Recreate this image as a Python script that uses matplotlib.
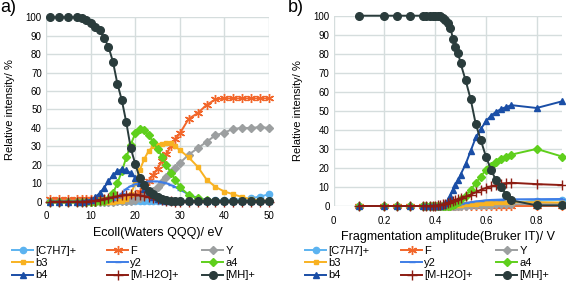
import matplotlib
matplotlib.use('Agg')
import matplotlib.pyplot as plt

plt.rcParams['font.family'] = ['Liberation Sans', 'DejaVu Sans']

# series names (legend order, row by row)
names = ['[C7H7]+', 'F', 'Y', 'b3', 'y2', 'a4', 'b4', '[M-H2O]+', '[MH]+']

# ---- panel a: Waters QQQ, collision energy (eV)
xa = [1, 3, 5, 7, 8, 9, 10, 11, 12, 13, 14, 15, 16, 17, 18, 19, 20, 21, 22, 23,
      24, 25, 26, 27, 28, 29, 30, 32, 34, 36, 38, 40, 42, 44, 46, 48, 50]

a_c7h7 = [0.3, 0.3, 0.3, 0.3, 0.3, 0.3, 0.3, 0.3, 0.3, 0.3, 0.3, 0.3, 0.3, 0.3, 0.3, 0.3, 0.3, 0.3, 0.3, 0.3,
          0.3, 0.3, 0.3, 0.3, 0.3, 0.3, 0.3, 0.4, 0.5, 0.6, 0.7, 0.9, 1.1, 1.4, 1.9, 2.8, 4.0]
a_f = [1.5, 1.5, 1.5, 1.5, 1.5, 1.5, 1.5, 1.5, 1.5, 1.5, 1.5, 1.5, 1.5, 1.5, 1.8, 2.5, 3.5, 5.5, 8, 11,
       14.5, 18, 22, 26, 30, 34, 37, 45, 48, 52.5, 55.5, 56, 56, 56, 56, 56, 56]
a_y = [0, 0, 0, 0, 0, 0, 0, 0, 0, 0, 0, 0.1, 0.2, 0.3, 0.4, 0.6, 1, 2, 3, 4.5,
       6, 8, 10.5, 13.5, 16, 18.5, 21, 25.5, 29, 32.5, 36, 37.5, 39.5, 40, 40, 40.5, 40]
a_b3 = [0, 0, 0, 0, 0, 0, 0, 0, 0, 0, 0, 0.1, 0.2, 0.5, 1.5, 4, 10, 17, 23, 27.5,
        30, 31, 31.5, 32, 32, 30, 28, 24, 19, 12, 8, 5.5, 4, 2.5, 1.3, 0.8, 0.5]
a_y2 = [0, 0, 0, 0, 0, 0, 0, 0, 0, 0, 0.3, 1, 2.5, 4.5, 7, 8.5, 9.5, 10, 10.5, 11,
        11, 11, 10.5, 10, 9, 8, 6.5, 4, 2, 1, 0.5, 0.3, 0.3, 0.3, 0.3, 0.3, 0.3]
a_a4 = [0, 0, 0, 0, 0, 0, 0, 0, 0.2, 0.5, 1.5, 4.5, 10, 16.5, 24, 31, 37, 39.5, 39, 36,
        32.5, 28.5, 24.5, 20, 15.5, 12, 8, 3.6, 1.8, 0.9, 0.5, 0.3, 0.2, 0.2, 0.2, 0.2, 0.2]
a_b4 = [0, 0, 0, 0, 0, 0.5, 1, 2.5, 4.5, 7.5, 11, 14.5, 16.5, 17.5, 17, 15.5, 13, 10, 7, 4.5,
        2.7, 1.5, 0.8, 0.4, 0.2, 0.2, 0.2, 0.2, 0.2, 0.2, 0.2, 0.2, 0.2, 0.2, 0.2, 0.2, 0.2]
a_mh2o = [0, 0, 0, 0, 0, 0, 0.3, 0.6, 1, 1.5, 2, 2.5, 3, 3.5, 3.8, 4, 3.8, 3.5, 3, 2.5,
          2, 1.5, 1, 0.6, 0.3, 0.1, 0.1, 0.1, 0.1, 0.1, 0.1, 0.1, 0.1, 0.1, 0.1, 0.1, 0.1]
a_mh = [100, 100, 100, 100, 99.5, 98.5, 97, 95, 93, 89, 84, 76, 64, 55, 43, 29, 20.5, 13, 9, 6,
        4, 2.5, 1.5, 1, 0.5, 0.3, 0.2, 0.2, 0.2, 0.2, 0.2, 0.2, 0.2, 0.2, 0.2, 0.2, 0.2]

# ---- panel b: Bruker IT, fragmentation amplitude (V)
xb = [0.1, 0.2, 0.25, 0.3, 0.35, 0.365, 0.38, 0.39, 0.40, 0.41, 0.42, 0.43, 0.44, 0.45, 0.46, 0.47,
      0.48, 0.49, 0.50, 0.52, 0.54, 0.56, 0.58, 0.60, 0.62, 0.64, 0.66, 0.68, 0.70, 0.80, 0.90]

b_c7h7 = [0, 0, 0, 0, 0, 0, 0, 0, 0, 0, 0, 0, 0, 0, 0, 0.1,
          0.1, 0.2, 0.3, 0.5, 0.7, 0.9, 1.1, 1.3, 1.5, 1.7, 1.8, 1.9, 2.0, 2.8, 3.2]
b_f = [0] * len(xb)
b_y = [0, 0, 0, 0, 0, 0, 0, 0, 0, 0, 0, 0, 0, 0, 0, 0,
       0, 0.1, 0.1, 0.2, 0.3, 0.4, 0.5, 0.6, 0.7, 0.8, 0.8, 0.9, 0.9, 1.0, 1.0]
b_b3 = [0, 0, 0, 0, 0, 0, 0, 0, 0, 0, 0, 0, 0, 0, 0.1, 0.2,
        0.3, 0.4, 0.5, 0.8, 1.0, 1.3, 1.5, 1.7, 1.8, 1.9, 2.0, 2.0, 2.0, 2.0, 1.8]
b_y2 = [0, 0, 0, 0, 0, 0, 0, 0, 0, 0, 0, 0, 0, 0, 0.2, 0.3,
        0.5, 0.7, 1.0, 1.5, 2.0, 2.4, 2.7, 3.0, 3.2, 3.3, 3.4, 3.5, 3.5, 3.6, 3.7]
b_a4 = [0, 0, 0, 0, 0, 0, 0, 0, 0, 0, 0, 0, 0, 0, 0, 0.5,
        1, 2, 3.5, 5.5, 8.5, 12, 15.5, 19, 21, 23, 24.5, 26, 27, 30, 26]
b_b4 = [0, 0, 0, 0, 0, 0, 0, 0, 0, 0, 0, 0.5, 1.5, 3, 5.5, 8.5,
        11, 13.5, 16.5, 22, 29, 36, 40.5, 44.5, 47.5, 49.5, 51, 52, 53, 51.5, 55]
b_mh2o = [0, 0, 0, 0, 0, 0, 0, 0, 0, 0.3, 0.5, 0.8, 1.2, 1.6, 2, 2.5,
          3, 3.5, 4, 5, 6, 7.2, 8.5, 9.5, 10.3, 11, 11.8, 12, 12.2, 11.5, 11]
b_mh = [100, 100, 100, 100, 100, 100, 100, 100, 100, 100, 99.7, 99, 98, 96, 93.5, 88,
        83.5, 80.5, 75, 66, 56, 43, 34.5, 26, 19, 13.5, 10, 6, 3, 0.3, 0.3]

colors = ['#5cb3f0', '#f2662a', '#9c9fa0', '#f8b222', '#3f7ee6', '#5fcf1c', '#1a4ea6', '#8c1c12', '#2a3c3c']
markers = ['o', (6, 2, 0), 'D', 's', '_', 'D', '^', '+', 'o']
msizes = [4.5, 6.5, 4, 3.5, 4.5, 4, 5, 6.5, 5.5]

panels = [
    ('a)', xa, [a_c7h7, a_f, a_y, a_b3, a_y2, a_a4, a_b4, a_mh2o, a_mh],
     'Ecoll(Waters QQQ)/ eV', [0.0813, 0.2873, 0.394, 0.6516], (0, 50),
     [0, 10, 20, 30, 40, 50], ['0', '10', '20', '30', '40', '50'],
     [12, 107, 202]),
    ('b)', xb, [b_c7h7, b_f, b_y, b_b3, b_y2, b_a4, b_b4, b_mh2o, b_mh],
     'Fragmentation amplitude(Bruker IT)/ V', [0.5896, 0.2721, 0.4034, 0.6724], (0, 0.9),
     [0, 0.2, 0.4, 0.6, 0.8], ['0', '0.2', '0.4', '0.6', '0.8'],
     [305, 401, 496]),
]

W, H = 566, 283
fig = plt.figure(figsize=(W / 100, H / 100), dpi=100)

for tag, x, series, xlabel, rect, xlim, xticks, xticklabels, legx in panels:
    ax = fig.add_axes(rect)
    handles = []
    for ys, name, c, m, ms in zip(series, names, colors, markers, msizes):
        h, = ax.plot(x, ys, color=c, marker=m, markersize=ms, linewidth=1.4,
                     markeredgewidth=1.0, label=name, clip_on=False)
        handles.append(h)
    ax.set_xlim(*xlim)
    ax.set_ylim(0, 100)
    ax.set_yticks(range(0, 101, 10))
    ax.set_xticks(xticks)
    ax.set_xticklabels(xticklabels)
    ax.grid(True, color='#d5dddd', linewidth=1.0)
    ax.set_axisbelow(True)
    for s in ax.spines.values():
        s.set_visible(False)
    ax.tick_params(axis='y', length=0, labelsize=7, pad=3)
    ax.tick_params(axis='x', length=0, labelsize=7, pad=7)
    ax.set_ylabel('Relative intensity/ %', fontsize=8, labelpad=7.5)
    ax.set_xlabel(xlabel, fontsize=9, labelpad=4)
    fig.text((rect[0] * W - 46) / W, 1 - 8 / H, tag, fontsize=13, va='center', ha='left')

    # one legend per column so the columns sit at fixed positions
    for col in range(3):
        idx = [col, col + 3, col + 6]
        leg = fig.legend([handles[i] for i in idx], [names[i] for i in idx],
                         loc='upper left', bbox_to_anchor=(legx[col] / W, 1 - 246 / H),
                         bbox_transform=fig.transFigure, frameon=False,
                         fontsize=8, handlelength=1.9, handletextpad=0.2,
                         labelspacing=0.2, borderpad=0, borderaxespad=0)

fig.savefig('out.png', dpi=100)
